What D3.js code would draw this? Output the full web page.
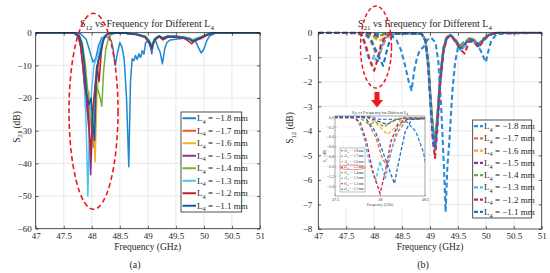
<!DOCTYPE html>
<html><head><meta charset="utf-8">
<script src="https://cdn.jsdelivr.net/npm/d3@7"></script>
<style>
body{margin:0;background:#fff}
svg{display:block;font-family:"Liberation Serif","Times New Roman",serif}
</style>
</head><body>
<svg id="c" width="550" height="273"></svg>
<script>
// ---------- data ----------
const L4 = [-1.8, -1.7, -1.6, -1.5, -1.4, -1.3, -1.2, -1.1];
const colorsA = ["#1f86d2", "#e8592a", "#f0b323", "#8e3096", "#72b234", "#4cc3ef", "#c41a35", "#0b5cab"];
const colorsB = ["#2b8ad6", "#ee6a36", "#f3b21c", "#8e3096", "#68ad2e", "#3fc1f0", "#d42348", "#1d70c2"];
const xTicks = [47, 47.5, 48, 48.5, 49, 49.5, 50, 50.5, 51];
const yTicksA = [0, -10, -20, -30, -40, -50, -60];
const yTicksB = [0, -1, -2, -3, -4, -5, -6, -7, -8];
const insetXTicks = [47.5, 48, 48.5];
const insetYTicks = [0, -0.2, -0.4, -0.6, -0.8, -1, -1.2, -1.4];

// panel (a): S21 (dB) vs frequency (GHz)
const a18 = [[47,0],[47.6,0],[47.8,-0.3],[47.9,-2],[47.97,-6],[48.02,-9],[48.07,-8],[48.12,-4],[48.18,-1.5],[48.25,-1.1],[48.3,-1.6],[48.35,-2.5],[48.38,-5],[48.42,-10],[48.46,-6],[48.5,-3],[48.54,-4.5],[48.58,-8.5],[48.62,-20],[48.66,-41],[48.69,-15],[48.72,-8],[48.75,-8.6],[48.78,-7],[48.81,-8.2],[48.84,-6.5],[48.87,-7.6],[48.9,-5.5],[48.93,-6.6],[48.96,-3],[49.0,-2.5],[49.04,-4],[49.07,-6.5],[49.1,-3],[49.14,-2.5],[49.18,-4.5],[49.22,-6],[49.26,-9.5],[49.3,-5],[49.34,-3],[49.4,-2.2],[49.5,-2],[49.6,-1.8],[49.7,-1.5],[49.78,-2],[49.85,-2.5],[49.9,-4.5],[49.95,-6.2],[50.0,-5],[50.05,-2.5],[50.1,-1],[50.2,-0.2],[50.3,0],[51,0]];
const a17 = [[47,0],[47.6,0],[47.7,-0.2],[47.76,-1],[47.8,-3],[47.84,-9],[47.88,-18],[47.92,-24],[47.96,-20],[48.0,-27],[48.03,-35],[48.06,-22],[48.1,-12],[48.15,-6],[48.2,-2.5],[48.25,-0.9],[48.32,-0.3],[48.45,-0.1],[48.6,-0.2],[48.8,-0.5],[48.95,-1.2],[49.02,-2.6],[49.07,-4.2],[49.12,-2],[49.2,-1],[49.27,-1.8],[49.35,-1.2],[49.5,-1.2],[49.65,-1.5],[49.75,-2],[49.8,-2.6],[49.87,-2],[49.95,-1.5],[50.05,-0.6],[50.15,-0.1],[50.3,0],[51,0]];
const a16 = [[47,0],[47.6,0],[47.72,-0.2],[47.78,-1],[47.83,-4],[47.87,-12],[47.91,-20],[47.95,-18],[47.99,-24],[48.03,-28],[48.06,-39.5],[48.09,-20],[48.13,-10],[48.18,-4],[48.23,-1.5],[48.3,-0.4],[48.45,-0.1],[48.6,-0.2],[48.8,-0.5],[48.95,-1.1],[49.02,-2.4],[49.07,-4],[49.12,-2],[49.2,-1],[49.27,-1.6],[49.35,-1.1],[49.5,-1.1],[49.65,-1.4],[49.75,-1.8],[49.8,-2.4],[49.87,-1.8],[49.95,-1.3],[50.05,-0.5],[50.15,-0.1],[50.3,0],[51,0]];
const a15 = [[47,0],[47.6,0],[47.7,-0.2],[47.76,-1.2],[47.8,-4],[47.84,-10],[47.88,-17],[47.92,-24],[47.95,-30],[47.98,-43.5],[48.02,-25],[48.06,-17],[48.1,-11],[48.15,-5],[48.2,-2],[48.26,-0.7],[48.32,-0.2],[48.45,-0.1],[48.6,-0.2],[48.8,-0.5],[48.95,-1.3],[49.02,-2.8],[49.07,-4.5],[49.12,-2.1],[49.2,-1.1],[49.27,-1.9],[49.35,-1.2],[49.5,-1.2],[49.65,-1.6],[49.75,-2.1],[49.8,-2.8],[49.87,-2.1],[49.95,-1.5],[50.05,-0.6],[50.15,-0.1],[50.3,0],[51,0]];
const a14 = [[47,0],[47.6,0],[47.72,-0.2],[47.78,-1],[47.83,-3],[47.88,-9],[47.93,-18],[47.97,-26],[48.0,-30],[48.04,-22],[48.08,-16],[48.12,-18],[48.15,-20],[48.18,-22.5],[48.21,-12],[48.25,-5],[48.3,-1.5],[48.36,-0.4],[48.45,-0.1],[48.6,-0.2],[48.8,-0.5],[48.95,-1.0],[49.02,-2.2],[49.07,-3.8],[49.12,-1.8],[49.2,-0.9],[49.27,-1.5],[49.35,-1.0],[49.5,-1.0],[49.65,-1.3],[49.75,-1.7],[49.8,-2.2],[49.87,-1.7],[49.95,-1.2],[50.05,-0.5],[50.15,-0.1],[50.3,0],[51,0]];
const a13 = [[47,0],[47.6,0],[47.68,-0.2],[47.74,-1],[47.79,-3],[47.83,-8],[47.87,-17],[47.9,-28],[47.93,-50],[47.96,-28],[48.0,-17],[48.04,-10],[48.08,-8],[48.12,-6.5],[48.17,-3],[48.22,-1],[48.3,-0.3],[48.45,-0.1],[48.6,-0.2],[48.8,-0.5],[48.95,-1.2],[49.02,-2.5],[49.07,-4.3],[49.12,-2],[49.2,-1],[49.27,-1.7],[49.35,-1.1],[49.5,-1.1],[49.65,-1.5],[49.75,-1.9],[49.8,-2.5],[49.87,-1.9],[49.95,-1.4],[50.05,-0.5],[50.15,-0.1],[50.3,0],[51,0]];
const a12 = [[47,0],[47.6,0],[47.7,-0.2],[47.76,-1.2],[47.8,-4],[47.84,-10],[47.88,-17],[47.92,-20],[47.95,-28],[47.98,-38],[48.01,-26],[48.05,-18],[48.09,-10],[48.13,-15],[48.17,-6],[48.21,-2],[48.27,-0.5],[48.35,-0.1],[48.6,-0.2],[48.8,-0.6],[48.95,-1.4],[49.02,-3],[49.07,-5],[49.12,-2.4],[49.2,-1.2],[49.27,-2.2],[49.35,-1.4],[49.5,-1.4],[49.65,-1.8],[49.72,-2.5],[49.78,-3.4],[49.84,-2.5],[49.95,-1.8],[50.05,-0.8],[50.15,-0.2],[50.3,0],[51,0]];
const a11 = [[47,0],[47.6,0],[47.72,-0.2],[47.78,-1],[47.83,-4],[47.87,-10],[47.91,-19],[47.95,-22],[47.99,-20],[48.02,-28],[48.05,-33],[48.08,-14],[48.11,-8.5],[48.15,-7],[48.19,-3],[48.24,-1],[48.3,-0.3],[48.45,-0.1],[48.6,-0.2],[48.8,-0.5],[48.95,-1.2],[49.02,-2.6],[49.07,-4.4],[49.12,-2],[49.2,-1],[49.27,-1.7],[49.35,-1.1],[49.5,-1.2],[49.65,-1.5],[49.75,-2],[49.8,-2.6],[49.87,-2],[49.95,-1.4],[50.05,-0.6],[50.15,-0.1],[50.3,0],[51,0]];

// panel (b): S12 (dB) vs frequency (GHz)
const b18 = [[47,0],[47.9,0],[48.0,-0.05],[48.2,-0.05],[48.3,-0.1],[48.4,-0.3],[48.48,-0.7],[48.55,-1.3],[48.62,-2.0],[48.67,-2.35],[48.72,-1.5],[48.77,-1.0],[48.82,-0.7],[48.88,-0.6],[48.95,-0.3],[49.02,-0.2],[49.1,-0.4],[49.15,-1.2],[49.2,-3.0],[49.25,-5.5],[49.28,-7.3],[49.31,-5.5],[49.35,-4.3],[49.4,-2.4],[49.45,-1.2],[49.5,-0.6],[49.6,-0.4],[49.7,-0.3],[49.8,-0.4],[49.9,-0.7],[49.96,-1.0],[50.0,-1.2],[50.05,-0.7],[50.1,-0.3],[50.2,-0.05],[51,0]];
const b17 = [[47,0],[47.8,0],[47.85,-0.05],[47.95,-0.4],[48.03,-0.85],[48.08,-1.0],[48.14,-0.6],[48.2,-0.3],[48.3,-0.05],[48.6,-0.02],[48.85,-0.05],[48.92,-0.3],[48.97,-1.3],[49.01,-2.8],[49.05,-4],[49.09,-4.6],[49.13,-3.6],[49.18,-2],[49.24,-0.7],[49.3,-0.2],[49.37,-0.1],[49.45,-0.3],[49.55,-0.6],[49.62,-0.5],[49.7,-0.25],[49.8,-0.35],[49.87,-0.55],[49.95,-0.3],[50.05,-0.1],[50.2,0],[51,0]];
const b16 = [[47,0],[47.85,0],[47.9,-0.05],[48.0,-0.2],[48.08,-0.35],[48.15,-0.25],[48.22,-0.08],[48.3,-0.02],[48.6,-0.02],[48.85,-0.05],[48.92,-0.25],[48.97,-1.2],[49.01,-2.6],[49.05,-3.8],[49.09,-4.3],[49.13,-3.4],[49.18,-1.8],[49.24,-0.6],[49.3,-0.15],[49.37,-0.1],[49.45,-0.25],[49.55,-0.55],[49.62,-0.45],[49.7,-0.2],[49.8,-0.3],[49.87,-0.45],[49.95,-0.25],[50.05,-0.08],[50.2,0],[51,0]];
const b15 = [[47,0],[47.85,0],[47.9,-0.03],[48.0,-0.1],[48.08,-0.15],[48.15,-0.08],[48.25,-0.02],[48.6,-0.02],[48.85,-0.05],[48.92,-0.3],[48.97,-1.3],[49.01,-2.7],[49.05,-3.9],[49.09,-4.5],[49.13,-3.5],[49.18,-1.9],[49.24,-0.65],[49.3,-0.2],[49.37,-0.1],[49.45,-0.3],[49.55,-0.6],[49.62,-0.5],[49.7,-0.25],[49.8,-0.35],[49.87,-0.5],[49.95,-0.3],[50.05,-0.1],[50.2,0],[51,0]];
const b14 = [[47,0],[47.75,0],[47.8,-0.05],[47.88,-0.15],[47.95,-0.1],[48.05,-0.2],[48.12,-0.1],[48.2,-0.03],[48.6,-0.02],[48.85,-0.05],[48.92,-0.3],[48.97,-1.2],[49.01,-2.6],[49.05,-3.8],[49.09,-4.4],[49.13,-3.4],[49.18,-1.8],[49.24,-0.6],[49.3,-0.15],[49.37,-0.1],[49.45,-0.3],[49.55,-0.55],[49.62,-0.45],[49.7,-0.2],[49.8,-0.3],[49.87,-0.45],[49.95,-0.25],[50.05,-0.08],[50.2,0],[51,0]];
const b13 = [[47,0],[47.7,0],[47.75,-0.05],[47.82,-0.4],[47.88,-0.9],[47.95,-1.3],[48.0,-0.9],[48.06,-1.25],[48.12,-0.7],[48.2,-0.2],[48.3,-0.05],[48.6,-0.02],[48.85,-0.05],[48.92,-0.35],[48.97,-1.4],[49.01,-2.9],[49.05,-4.2],[49.09,-4.8],[49.13,-3.8],[49.18,-2.1],[49.24,-0.8],[49.3,-0.25],[49.37,-0.1],[49.45,-0.35],[49.55,-0.75],[49.62,-0.55],[49.7,-0.3],[49.8,-0.4],[49.87,-0.6],[49.95,-0.35],[50.05,-0.1],[50.2,0],[51,0]];
const b12 = [[47,0],[47.7,-0.02],[47.78,-0.1],[47.85,-0.5],[47.92,-1.1],[48.0,-1.55],[48.06,-1.1],[48.12,-0.5],[48.2,-0.15],[48.3,-0.05],[48.6,-0.02],[48.85,-0.05],[48.92,-0.35],[48.97,-1.5],[49.01,-3.0],[49.05,-4.4],[49.09,-5.1],[49.13,-4.0],[49.18,-2.2],[49.24,-0.8],[49.3,-0.25],[49.37,-0.1],[49.45,-0.35],[49.55,-0.7],[49.62,-0.85],[49.7,-0.35],[49.8,-0.4],[49.87,-0.6],[49.95,-0.35],[50.05,-0.1],[50.2,0],[51,0]];
const b11 = [[47,0],[47.8,0],[47.85,-0.05],[47.95,-0.3],[48.05,-0.8],[48.16,-1.35],[48.22,-0.8],[48.28,-0.3],[48.35,-0.05],[48.6,-0.02],[48.85,-0.05],[48.92,-0.3],[48.97,-1.3],[49.01,-2.8],[49.05,-4.1],[49.09,-4.7],[49.13,-3.7],[49.18,-2.0],[49.24,-0.7],[49.3,-0.2],[49.37,-0.1],[49.45,-0.3],[49.55,-0.65],[49.62,-0.5],[49.7,-0.25],[49.8,-0.35],[49.87,-0.5],[49.95,-0.3],[50.05,-0.1],[50.2,0],[51,0]];

const seriesA = [a18, a17, a16, a15, a14, a13, a12, a11];
const seriesB = [b18, b17, b16, b15, b14, b13, b12, b11];

// ---------- drawing ----------
const svg = d3.select("#c");
const ink = "#262626";
const fmt = d3.format("");

function subText(sel, parts, size) {
  let prev = 0;
  parts.forEach(([t, s]) => {
    const dy = (s - prev) * size * 0.3;
    sel.append("tspan").attr("dy", dy).attr("font-size", s ? size * 0.7 : size).text(t);
    prev = s;
  });
}

function panel(opt) {
  const {left, right, top, bottom, ydom, yticks, series, colors, dashed, id} = opt;
  const x = d3.scaleLinear().domain([47, 51]).range([left, right]);
  const y = d3.scaleLinear().domain(ydom).range([bottom, top]);
  const g = svg.append("g");
  g.append("g").selectAll("line").data(xTicks.slice(1, -1)).join("line")
    .attr("x1", d => x(d)).attr("x2", d => x(d)).attr("y1", top).attr("y2", bottom)
    .attr("stroke", "#e3e3e3").attr("stroke-width", 0.8);
  g.append("g").selectAll("line").data(yticks.slice(1, -1)).join("line")
    .attr("y1", d => y(d)).attr("y2", d => y(d)).attr("x1", left).attr("x2", right)
    .attr("stroke", "#e3e3e3").attr("stroke-width", 0.8);
  svg.append("clipPath").attr("id", id).append("rect")
    .attr("x", left).attr("y", top - 1).attr("width", right - left).attr("height", bottom - top + 1);
  const line = d3.line().x(d => x(d[0])).y(d => y(d[1]));
  g.append("g").attr("clip-path", `url(#${id})`).selectAll("path").data(series).join("path")
    .attr("d", line).attr("fill", "none")
    .attr("stroke", (d, i) => colors[i])
    .attr("stroke-width", dashed ? 2.1 : 1.5)
    .attr("stroke-dasharray", dashed ? "5,3" : null)
    .attr("stroke-linejoin", "round");
  const styleAxis = a => {
    a.select(".domain").remove();
    a.selectAll("line").attr("stroke", ink).attr("stroke-width", 0.7);
    a.selectAll("text").attr("fill", ink).attr("font-size", 9).attr("font-family", "Liberation Serif");
  };
  g.append("g").attr("transform", `translate(0,${bottom})`)
    .call(d3.axisBottom(x).tickValues(xTicks).tickFormat(fmt).tickSizeInner(-3).tickSizeOuter(0).tickPadding(4)).call(styleAxis);
  g.append("g").attr("transform", `translate(0,${top})`)
    .call(d3.axisTop(x).tickValues(xTicks).tickFormat("").tickSizeInner(-3).tickSizeOuter(0)).call(styleAxis);
  g.append("g").attr("transform", `translate(${left},0)`)
    .call(d3.axisLeft(y).tickValues(yticks).tickFormat(d3.format("d")).tickSizeInner(-3).tickSizeOuter(0).tickPadding(opt.ypad)).call(styleAxis);
  g.append("g").attr("transform", `translate(${right},0)`)
    .call(d3.axisRight(y).tickValues(yticks).tickFormat("").tickSizeInner(-3).tickSizeOuter(0)).call(styleAxis);
  g.append("rect").attr("x", left).attr("y", top).attr("width", right - left).attr("height", bottom - top)
    .attr("fill", "none").attr("stroke", ink).attr("stroke-width", 0.8);
  return {x, y, g};
}

const A = panel({left: 35.7, right: 260, top: 32.7, bottom: 228.7, ydom: [-60, 0], yticks: yTicksA,
  series: seriesA, colors: colorsA, dashed: false, id: "clipA", ypad: 4});
const B = panel({left: 318.3, right: 541.7, top: 32.7, bottom: 229, ydom: [-8, 0], yticks: yTicksB,
  series: seriesB, colors: colorsB, dashed: true, id: "clipB", ypad: 6});

function label(xp, yp, parts, size, rot) {
  const t = svg.append("text").attr("text-anchor", "middle").attr("fill", ink)
    .attr("transform", `translate(${xp},${yp})` + (rot ? " rotate(-90)" : ""));
  subText(t, parts, size);
  return t;
}
label(147, 27, [["S",0],["12",1],[" vs Frequency for Different L",0],["4",1]], 10);
label(425, 27, [["S",0],["21",1],[" vs Frequency for Different L",0],["4",1]], 10);
label(147.7, 250, [["Frequency (GHz)",0]], 9.5);
label(430, 250, [["Frequency (GHz)",0]], 9.5);
label(19.5, 127, [["S",0],["21",1],[" (dB)",0]], 9.5, true);
label(293, 128, [["S",0],["12",1],[" (dB)",0]], 9.5, true);
label(135, 268, [["(a)",0]], 10);
label(423, 268, [["(b)",0]], 10);

function legend(x0, y0, w, h, colors, dashed, lx1, lx2, tx, fsize, sw) {
  const lg = svg.append("g");
  lg.append("rect").attr("x", x0).attr("y", y0).attr("width", w).attr("height", h)
    .attr("fill", "#fff").attr("stroke", ink).attr("stroke-width", 0.8);
  const step = h / L4.length;
  L4.forEach((v, i) => {
    const yy = y0 + step * (i + 0.5);
    lg.append("line").attr("x1", lx1).attr("x2", lx2).attr("y1", yy).attr("y2", yy)
      .attr("stroke", colors[i]).attr("stroke-width", sw)
      .attr("stroke-dasharray", dashed ? dashed : null);
    const t = lg.append("text").attr("x", tx).attr("y", yy + fsize * 0.33).attr("fill", ink).attr("font-size", fsize);
    subText(t, [["L",0],["4",1],[" = " + d3.format(".1f")(v).replace("-", "\u2212") + " mm",0]], fsize);
  });
  return lg;
}
legend(181, 112, 60.7, 100, colorsA, null, 182.5, 196, 197, 9, 2);
legend(472.7, 120, 59, 98, colorsB, "4,2", 474, 483, 484, 9, 2.4);

svg.append("ellipse").attr("cx", 93.5).attr("cy", 111.3).attr("rx", 24.5).attr("ry", 98)
  .attr("fill", "none").attr("stroke", "#f01818").attr("stroke-width", 1.6).attr("stroke-dasharray", "5,3");
svg.append("ellipse").attr("cx", 376).attr("cy", 47).attr("rx", 15.5).attr("ry", 41)
  .attr("fill", "none").attr("stroke", "#f01818").attr("stroke-width", 1.5).attr("stroke-dasharray", "4,2.5");
svg.append("path").attr("d", "M374.5,92 L379.5,92 L379.5,100 L383,100 L377,107.5 L371,100 L374.5,100 Z")
  .attr("fill", "#f01818");

// ----- inset
const ins = {left: 335, right: 425, top: 116, bottom: 196};
svg.append("rect").attr("x", 321).attr("y", 108).attr("width", 107).attr("height", 100).attr("fill", "#fff");
const xi = d3.scaleLinear().domain([47.5, 48.5]).range([ins.left, ins.right]);
const yi = d3.scaleLinear().domain([-1.6, 0.02]).range([ins.bottom, ins.top]);
const gi = svg.append("g");
gi.append("g").selectAll("line").data(insetYTicks.slice(1)).join("line")
  .attr("x1", ins.left).attr("x2", ins.right).attr("y1", d => yi(d)).attr("y2", d => yi(d))
  .attr("stroke", "#ececec").attr("stroke-width", 0.5);
gi.append("g").selectAll("line").data([48]).join("line")
  .attr("x1", d => xi(d)).attr("x2", d => xi(d)).attr("y1", ins.top).attr("y2", ins.bottom)
  .attr("stroke", "#ececec").attr("stroke-width", 0.5);
svg.append("clipPath").attr("id", "clipI").append("rect")
  .attr("x", ins.left).attr("y", ins.top - 1).attr("width", ins.right - ins.left).attr("height", ins.bottom - ins.top + 1);
const linei = d3.line().x(d => xi(d[0])).y(d => yi(d[1]));
gi.append("g").attr("clip-path", "url(#clipI)").selectAll("path").data(seriesB).join("path")
  .attr("d", linei).attr("fill", "none").attr("stroke", (d, i) => colorsB[i])
  .attr("stroke-width", 1.3).attr("stroke-dasharray", "3.5,2");
const styleI = a => {
  a.select(".domain").remove();
  a.selectAll("line").attr("stroke", "#555").attr("stroke-width", 0.4);
  a.selectAll("text").attr("fill", "#444").attr("font-size", 3.6);
};
gi.append("g").attr("transform", `translate(0,${ins.bottom})`)
  .call(d3.axisBottom(xi).tickValues(insetXTicks).tickFormat(fmt).tickSizeInner(-1.5).tickSizeOuter(0).tickPadding(2)).call(styleI);
gi.append("g").attr("transform", `translate(${ins.left},0)`)
  .call(d3.axisLeft(yi).tickValues(insetYTicks).tickFormat(d3.format(".1f")).tickSizeInner(-1.5).tickSizeOuter(0).tickPadding(1)).call(styleI);
gi.append("rect").attr("x", ins.left).attr("y", ins.top).attr("width", ins.right - ins.left).attr("height", ins.bottom - ins.top)
  .attr("fill", "none").attr("stroke", "#666").attr("stroke-width", 0.6);
const ti = gi.append("text").attr("x", (ins.left + ins.right) / 2).attr("y", 114).attr("text-anchor", "middle").attr("fill", "#333");
subText(ti, [["S",0],["21",1],[" vs Frequency for Different L",0],["4",1]], 4.2);
gi.append("text").attr("x", (ins.left + ins.right) / 2).attr("y", 206).attr("text-anchor", "middle")
  .attr("fill", "#444").attr("font-size", 3.8).text("Frequency (GHz)");
const tyi = gi.append("text").attr("text-anchor", "middle").attr("fill", "#444")
  .attr("transform", `translate(326,156) rotate(-90)`);
subText(tyi, [["S",0],["21",1],[" (dB)",0]], 3.8);
const il = legend(340, 148, 25, 44, colorsB, "2,1.2", 341, 345, 345.5, 3.2, 1.1);
il.select("rect").attr("stroke", "#666").attr("stroke-width", 0.4);
svg.append("ellipse").attr("cx", 352.5).attr("cy", 148 + 44 / 8 * 3.5).attr("rx", 13).attr("ry", 2.4)
  .attr("fill", "none").attr("stroke", "#f04040").attr("stroke-width", 0.6);
</script>
</body></html>
